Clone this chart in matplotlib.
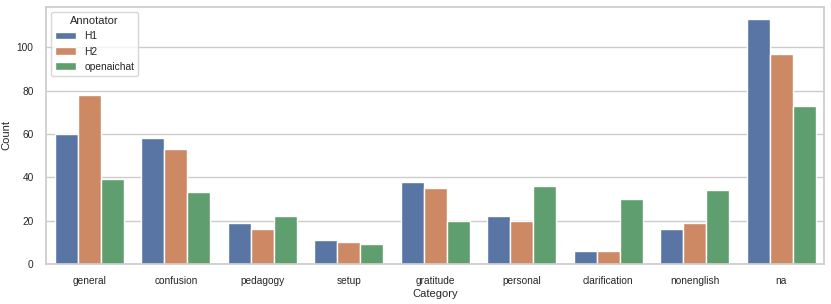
import matplotlib
matplotlib.use("Agg")
import matplotlib.pyplot as plt
import numpy as np
import pandas as pd
import seaborn as sns

categories = ["general", "confusion", "pedagogy", "setup", "gratitude",
              "personal", "clarification", "nonenglish", "na"]
annotators = ["H1", "H2", "openaichat"]
h1 = [60, 58, 19, 11, 38, 22, 6, 16, 113]
h2 = [78, 53, 16, 10, 35, 20, 6, 19, 97]
openaichat = [39, 33, 22, 9, 20, 36, 30, 34, 73]

df = pd.DataFrame({
    "Category": categories * 3,
    "Annotator": np.repeat(annotators, len(categories)),
    "Count": h1 + h2 + openaichat,
})

sns.set_theme(style="whitegrid")
plt.rcParams['font.family'] = ['Liberation Sans', 'DejaVu Sans']
fig, ax = plt.subplots(figsize=(8.31, 3.04), dpi=100)
sns.barplot(data=df, x="Category", y="Count", hue="Annotator", ax=ax)

ax.tick_params(labelsize=7.3, pad=3)
ax.set_xlabel("Category", fontsize=8, labelpad=2)
ax.set_ylabel("Count", fontsize=8, labelpad=4)
leg = ax.legend(title="Annotator", loc="upper left", fontsize=7.4, title_fontsize=8)

plt.subplots_adjust(left=0.0555, right=0.992, top=0.977, bottom=0.132)
fig.savefig("out.png", dpi=100)
